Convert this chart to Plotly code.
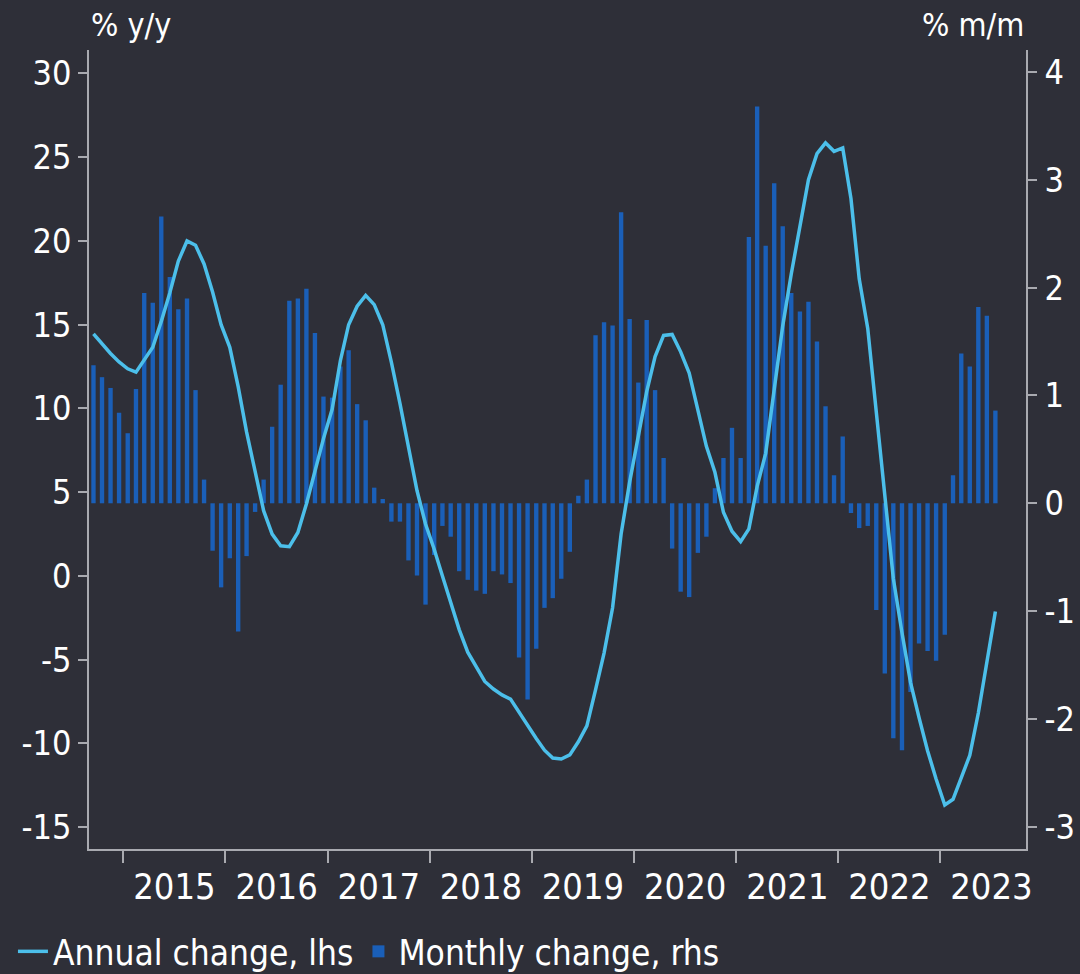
import plotly.graph_objects as go
import pandas as pd

# Monthly observations, Sep 2014 .. Jul 2023
months = pd.date_range("2014-09-01", "2023-07-01", freq="MS").strftime("%Y-%m-%d").tolist()

# Annual change, % y/y (left axis)
annual_change = [
    14.45, 13.87, 13.28, 12.78,
    12.37, 12.17, 12.87, 13.65, 15.2, 16.9, 18.8, 20.0, 19.74, 18.63, 16.95, 15.0,
    13.65, 11.3, 8.6, 6.3, 3.9, 2.5, 1.8, 1.75, 2.6, 4.3, 6.3, 8.2,
    9.95, 12.85, 15.0, 16.1, 16.75, 16.2, 15.0, 12.75, 10.3, 7.6, 5.1, 3.1,
    1.6, 0.0, -1.6, -3.2, -4.55, -5.45, -6.3, -6.75, -7.1, -7.35, -8.15, -8.9,
    -9.7, -10.4, -10.87, -10.93, -10.68, -9.9, -8.95, -6.8, -4.6, -1.9, 2.5, 5.6,
    8.4, 11.0, 13.1, 14.36, 14.42, 13.38, 12.11, 9.86, 7.74, 6.19, 3.8, 2.67,
    2.05, 2.81, 5.35, 7.32, 10.98, 14.93, 18.03, 20.85, 23.66, 25.21, 25.86, 25.35,
    25.55, 22.53, 17.74, 14.78, 9.85, 4.5, -0.15, -3.39, -6.35, -8.46, -10.43, -12.12,
    -13.67, -13.33, -11.98, -10.71, -8.18, -5.08, -2.12,
]

# Monthly change, % m/m (right axis)
monthly_change = [
    1.28, 1.17, 1.07, 0.84,
    0.65, 1.06, 1.95, 1.86, 2.66, 2.10, 1.80, 1.90, 1.05, 0.22, -0.44, -0.78,
    -0.51, -1.19, -0.49, -0.08, 0.22, 0.71, 1.10, 1.88, 1.90, 1.99, 1.58, 0.99,
    0.98, 1.27, 1.42, 0.92, 0.77, 0.145, 0.04, -0.17, -0.17, -0.53, -0.67, -0.94,
    -0.48, -0.21, -0.31, -0.63, -0.71, -0.81, -0.84, -0.63, -0.66, -0.74, -1.43, -1.82,
    -1.35, -0.97, -0.88, -0.70, -0.45, 0.07, 0.22, 1.56, 1.68, 1.65, 2.70, 1.71,
    1.12, 1.70, 1.05, 0.42, -0.42, -0.82, -0.87, -0.46, -0.31, 0.14, 0.42, 0.70,
    0.42, 2.47, 3.68, 2.39, 2.97, 2.57, 1.95, 1.78, 1.87, 1.50, 0.90, 0.26,
    0.62, -0.09, -0.23, -0.21, -0.99, -1.58, -2.18, -2.29, -1.75, -1.30, -1.37, -1.46,
    -1.22, 0.26, 1.39, 1.27, 1.82, 1.74, 0.86,
]

left_ticks = [-15, -10, -5, 0, 5, 10, 15, 20, 25, 30]
left_labels = ["-15", "-10", "-5", "0", "5", "10", "15", "20", "25", "30"]
right_ticks = [-3, -2, -1, 0, 1, 2, 3, 4]
right_labels = ["-3", "-2", "-1", "0", "1", "2", "3", "4"]

BG = "#2e2f38"
LINE = "#4cbfea"
BAR = "#1a5fb8"
AXIS = "#a9aab0"
FONT = "DejaVu Sans Condensed, DejaVu Sans, sans-serif"

fig = go.Figure()
fig.add_trace(go.Bar(
    x=months, y=monthly_change, name="Monthly change, rhs",
    xperiod="M1", xperiodalignment="middle",
    marker=dict(color=BAR, line=dict(width=0)),
    width=1.35e9, yaxis="y", legendrank=2,
))
fig.add_trace(go.Scatter(
    x=months, y=annual_change, name="Annual change, lhs",
    xperiod="M1", xperiodalignment="middle",
    mode="lines", line=dict(color=LINE, width=3.5),
    yaxis="y2", legendrank=1,
))

fig.update_layout(
    width=1080, height=974, autosize=False,
    margin=dict(l=89, r=54, t=50, b=125, autoexpand=False),
    paper_bgcolor=BG, plot_bgcolor=BG,
    font=dict(family=FONT, color="white", size=34),
    showlegend=True,
    legend=dict(
        orientation="h", xref="container", yref="container",
        x=0.012, xanchor="left", y=0.023, yanchor="middle",
        font=dict(size=35, color="white"), bgcolor="rgba(0,0,0,0)",
        itemwidth=30, tracegroupgap=0,
    ),
    xaxis=dict(
        type="date", range=["2014-08-31", "2023-11-03"],
        dtick="M12", tick0="2015-01-01", tickformat="%Y", ticklabelmode="period",
        ticks="outside", ticklen=12, tickwidth=1.5, tickcolor=AXIS,
        ticklabelstandoff=-7,
        showline=True, linecolor=AXIS, linewidth=1.5,
        showgrid=False, zeroline=False,
        tickfont=dict(size=36),
    ),
    yaxis=dict(
        side="right", range=[-3.207, 4.205],
        tickvals=right_ticks, ticktext=right_labels,
        ticks="outside", ticklen=9, tickwidth=1.5, tickcolor=AXIS,
        ticklabelstandoff=1,
        showline=True, linecolor=AXIS, linewidth=1.5,
        showgrid=False, zeroline=False,
    ),
    yaxis2=dict(
        overlaying="y", side="left", range=[-16.3, 31.4],
        tickvals=left_ticks, ticktext=left_labels,
        ticks="outside", ticklen=9, tickwidth=1.5, tickcolor=AXIS,
        showline=True, linecolor=AXIS, linewidth=1.5,
        showgrid=False, zeroline=False,
    ),
    annotations=[
        dict(text="% y/y", xref="paper", yref="paper", x=0.0, y=1.031,
             xanchor="left", yanchor="middle", showarrow=False,
             font=dict(size=32, color="white")),
        dict(text="% m/m", xref="paper", yref="paper", x=1.0, y=1.031,
             xanchor="right", yanchor="middle", showarrow=False,
             font=dict(size=32, color="white")),
    ],
)

fig.write_html(
    "out.html",
    config={"displayModeBar": False},
    post_script="document.body.style.margin='0';document.body.style.padding='0';"
                "document.body.style.background='" + BG + "';"
                "document.documentElement.style.overflow='hidden';",
)
